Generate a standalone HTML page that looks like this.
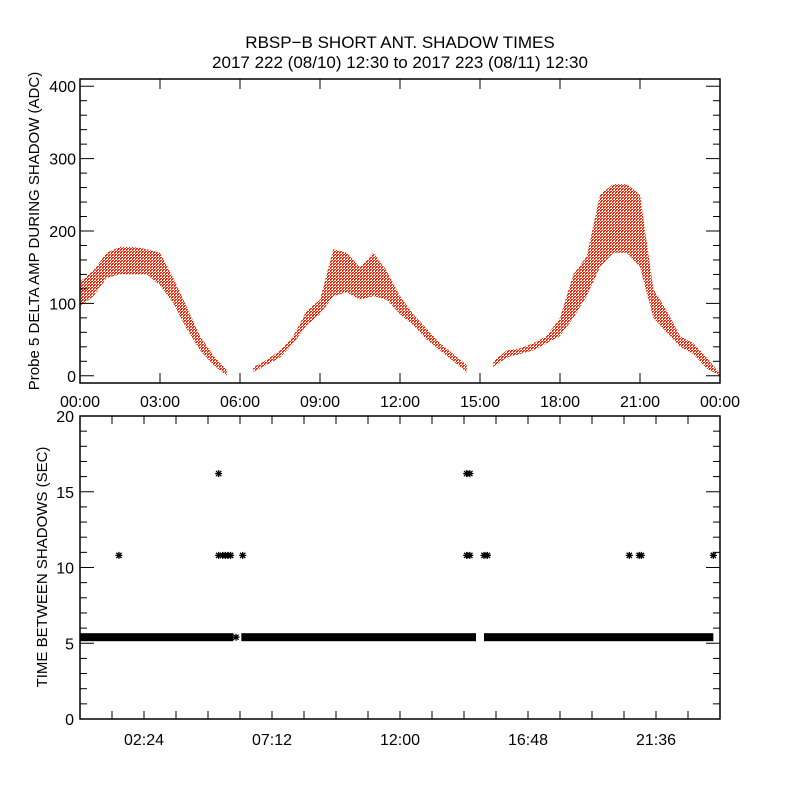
<!DOCTYPE html>
<html><head><meta charset="utf-8"><style>
html,body{margin:0;padding:0;background:#fff;}
svg{display:block;font-family:"Liberation Sans",sans-serif;}
</style></head><body>
<svg id="chart" width="800" height="800" viewBox="0 0 800 800" xmlns="http://www.w3.org/2000/svg">
<defs>
<pattern id="dots" width="3" height="3" patternUnits="userSpaceOnUse">
<rect x="0" y="0" width="2" height="1" fill="#ff2200"/><rect x="1" y="2" width="2" height="1" fill="#ff2200"/><rect x="0" y="1" width="1" height="1" fill="#ff2200"/>
</pattern>
</defs>
<rect width="800" height="800" fill="#fff"/>
<text x="400" y="48" font-size="17" text-anchor="middle">RBSP−B SHORT ANT. SHADOW TIMES</text>
<text x="400" y="68" font-size="17" text-anchor="middle">2017 222 (08/10) 12:30 to 2017 223 (08/11) 12:30</text>
<g id="topPanel"></g>
<g id="botPanel"></g>
</svg>
<script>
// Top panel data: hours and amplitude envelope (ADC)
const ampHours = [0,0.5,1,1.5,2,2.5,3,3.5,4,4.5,5,5.5,6,6.5,7,7.5,8,8.5,9,9.5,10,10.5,11,11.5,12,12.5,13,13.5,14,14.5,15,15.5,16,16.5,17,17.5,18,18.5,19,19.5,20,20.5,21,21.5,22,22.5,23,23.5,24];
const ampUpper = [130,145,170,178,178,175,170,135,95,55,28,8,null,12,22,35,55,90,105,175,170,150,170,145,110,85,65,45,30,15,null,20,35,38,45,55,80,140,165,250,265,265,250,120,90,55,45,25,3];
const ampLower = [95,110,135,140,140,140,125,100,65,35,15,0,null,5,15,25,45,70,85,110,115,105,110,105,85,70,50,35,20,5,null,12,25,30,35,45,55,80,110,150,170,170,150,80,60,40,30,10,0];
const yTicksTop = [0,100,200,300,400];
const xLabelsTop = ["00:00","03:00","06:00","09:00","12:00","15:00","18:00","21:00","00:00"];
// Bottom panel data
const gapSegStart = [0,6.05,15.15];
const gapSegEnd = [5.75,14.85,23.75];
const baseValue = [5.4,5.4,5.4];
const outlierHours = [1.46,5.2,5.2,5.35,5.45,5.55,5.65,6.1,14.5,14.62,14.5,14.62,15.15,15.28,20.6,20.97,21.05,23.75,5.85];
const outlierVals = [10.8,16.2,10.8,10.8,10.8,10.8,10.8,10.8,16.2,16.2,10.8,10.8,10.8,10.8,10.8,10.8,10.8,10.8,5.4];
const yTicksBot = [0,5,10,15,20];
const xLabelsBot = ["02:24","07:12","12:00","16:48","21:36"];

const NS="http://www.w3.org/2000/svg";
const X0=80,X1=720;
const xs=h=>X0+(h/24)*(X1-X0);
const TY0=79,TY1=383,yT=v=>TY1-(v+10)/420*(TY1-TY0);
const BY0=416,BY1=719,yB=v=>BY1-v/20*(BY1-BY0);
function mk(tag,attrs,parent){const e=document.createElementNS(NS,tag);for(const k in attrs)e.setAttribute(k,attrs[k]);parent.appendChild(e);return e;}
const topG=document.getElementById('topPanel'),botG=document.getElementById('botPanel');

// top: bands
let seg=[];
function flush(){
  if(seg.length<2){seg=[];return;}
  const pts=seg.map(i=>xs(ampHours[i])+','+yT(ampUpper[i])).concat(seg.slice().reverse().map(i=>xs(ampHours[i])+','+yT(ampLower[i]))).join(' ');
  const p=mk('polygon',{points:pts,fill:'url(#dots)'},topG);
  
  
  seg=[];
}
for(let i=0;i<ampHours.length;i++){if(ampUpper[i]===null)flush();else seg.push(i);}flush();

// top axes
const ta=mk('rect',{x:X0,y:TY0,width:X1-X0,height:TY1-TY0,fill:'none',stroke:'#000','stroke-width':1.5},topG);


for(let v=0;v<=400;v+=20){
  const y=yT(v),L=(v%100===0)?14:7;
  mk('line',{x1:X0,x2:X0+L,y1:y,y2:y,stroke:'#000'},topG);
  mk('line',{x1:X1,x2:X1-L,y1:y,y2:y,stroke:'#000'},topG);
}
yTicksTop.forEach(v=>{const t=mk('text',{x:X0-4,y:yT(v)+6,'font-size':16,'text-anchor':'end'},topG);t.textContent=v;
  
  });
xLabelsTop.forEach((s,i)=>{const x=xs(i*3);
  mk('line',{x1:x,x2:x,y1:TY1,y2:TY1-10,stroke:'#000'},topG);mk('line',{x1:x,x2:x,y1:TY0,y2:TY0+10,stroke:'#000'},topG);
  const t=mk('text',{x:x,y:407,'font-size':16,'text-anchor':'middle'},topG);t.textContent=s;
  
  });
const tyl=mk('text',{x:0,y:0,'font-size':15,'text-anchor':'middle',transform:'translate(39,231) rotate(-90)'},topG);
tyl.textContent='Probe 5 DELTA AMP DURING SHADOW (ADC)';



// bottom: base bands
for(let i=0;i<gapSegStart.length;i++){
  const y=yB(baseValue[i]);
  const r=mk('rect',{x:xs(gapSegStart[i]),y:y-4,width:xs(gapSegEnd[i])-xs(gapSegStart[i]),height:8,fill:'#000'},botG);
  
  
}
function star(x,y,g){
  const s=3.5;let d='';
  d+=`M${x-s},${y}L${x+s},${y}M${x},${y-s}L${x},${y+s}M${x-s*.75},${y-s*.75}L${x+s*.75},${y+s*.75}M${x-s*.75},${y+s*.75}L${x+s*.75},${y-s*.75}`;
  return mk('path',{d:d,stroke:'#000','stroke-width':1.3,fill:'none'},g);
}
for(let i=0;i<outlierHours.length;i++){
  const p=star(xs(outlierHours[i]),yB(outlierVals[i]),botG);
  
  
}
const ba=mk('rect',{x:X0,y:BY0,width:X1-X0,height:BY1-BY0,fill:'none',stroke:'#000','stroke-width':1.5},botG);


for(let v=0;v<=20;v++){
  const y=yB(v),L=(v%5===0)?14:7;
  mk('line',{x1:X0,x2:X0+L,y1:y,y2:y,stroke:'#000'},botG);
  mk('line',{x1:X1,x2:X1-L,y1:y,y2:y,stroke:'#000'},botG);
}
yTicksBot.forEach(v=>{const t=mk('text',{x:X0-6,y:yB(v)+6,'font-size':16,'text-anchor':'end'},botG);t.textContent=v;
  
  });
for(let h=1.2;h<24;h+=1.2){const x=xs(h);
  mk('line',{x1:x,x2:x,y1:BY1,y2:BY1-8,stroke:'#000'},botG);mk('line',{x1:x,x2:x,y1:BY0,y2:BY0+8,stroke:'#000'},botG);}
xLabelsBot.forEach((s,i)=>{const t=mk('text',{x:xs(2.4+i*4.8),y:745,'font-size':16,'text-anchor':'middle'},botG);t.textContent=s;
  
  });
const byl=mk('text',{x:0,y:0,'font-size':15,'text-anchor':'middle',transform:'translate(47,567) rotate(-90)'},botG);
byl.textContent='TIME BETWEEN SHADOWS (SEC)';


</script>
</body></html>
